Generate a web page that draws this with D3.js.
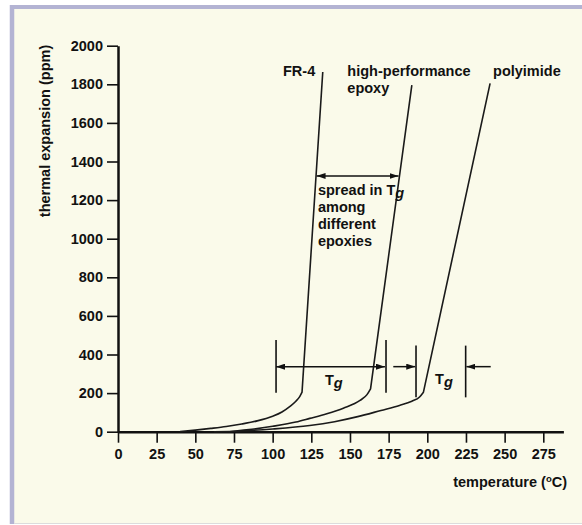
<!DOCTYPE html>
<html>
<head>
<meta charset="utf-8">
<script src="https://cdnjs.cloudflare.com/ajax/libs/d3/7.8.5/d3.min.js"></script>
<style>
  body { margin: 0; background: #fff; }
  svg { display: block; font-family: "Liberation Sans", Arial, Helvetica, sans-serif; font-weight: bold; }
</style>
</head>
<body>
<div id="container"></div>
<script>
//Curves: [temperature (C), thermal expansion (ppm)], smooth part up to the knee
var fr4 = [[40, 0], [50, 8], [60, 17], [70, 27], [80, 40], [90, 56], [100, 80], [106, 102], [111, 130], [115, 158], [117.5, 182], [119, 205]];
var hpEpoxy = [[72, 0], [80, 7], [90, 16], [100, 28], [115, 50], [124, 69], [135, 93], [145.7, 122], [156.5, 162], [161, 192], [163.3, 222]];
var polyimide = [[62, 0], [80, 4], [100, 14], [124, 32], [140, 52], [155, 78], [170, 110], [182, 136], [190, 158], [195, 180], [197.5, 205]];

//straight line above Tg, end point of each curve
var fr4Top = [132.4, 1864];
var hpEpoxyTop = [190, 1796];
var polyimideTop = [240.6, 1805];

var xTicks = [0, 25, 50, 75, 100, 125, 150, 175, 200, 225, 250, 275];
var yTicks = [0, 200, 400, 600, 800, 1000, 1200, 1400, 1600, 1800, 2000];

//Series names, placed at [temperature, ppm]
var seriesLabels = [
  { lines: ["FR-4"], at: [106.7, 1843] },
  { lines: ["high-performance", "epoxy"], at: [148.3, 1843] },
  { lines: ["polyimide"], at: [242.5, 1843] }
];

//Tg brackets: bar positions (C) and bar span (ppm)
var epoxyTgBars = [102.2, 173.3];
var polyTgBars = [192.7, 224.8];
var epoxyBarSpan = [202, 475];
var polyBarSpan = [178, 446];
var arrowLevel = 337;

//spread in Tg arrow, FR-4 to high-performance epoxy
var spreadArrow = [128.4, 181.4];
var spreadLevel = 1325;
var spreadText = ["spread in T", "among", "different", "epoxies"];
var spreadTextAt = [129.3, 1229];

var tgLabels = [[133.8, 244], [205, 247]];

var svgWidth = 582, svgHeight = 525;
var fontSize = "14.5px";

var svg = d3.select("#container")
  .append("svg")
  .attr("width", svgWidth)
  .attr("height", svgHeight);

//arrow head
svg.append("defs").append("marker")
  .attr("id", "head")
  .attr("viewBox", "0 0 9 6")
  .attr("markerUnits", "userSpaceOnUse")
  .attr("markerWidth", 9)
  .attr("markerHeight", 6)
  .attr("refX", 9)
  .attr("refY", 3)
  .attr("orient", "auto-start-reverse")
  .append("path")
  .attr("d", "M0,0L9,3L0,6Z")
  .attr("fill", "#111");

//panel
svg.append("rect")
  .attr("x", 12).attr("y", 7)
  .attr("width", 600).attr("height", 516)
  .attr("fill", "#fafaea");
svg.append("line")
  .attr("x1", 12).attr("x2", 12).attr("y1", 5).attr("y2", 524)
  .attr("stroke", "#b3b3d3").attr("stroke-width", 4.5);
svg.append("line")
  .attr("x1", 10).attr("x2", 582).attr("y1", 7).attr("y2", 7)
  .attr("stroke", "#b3b3d3").attr("stroke-width", 4);
svg.append("line")
  .attr("x1", 14).attr("x2", 582).attr("y1", 523.5).attr("y2", 523.5)
  .attr("stroke", "#dcdcdc").attr("stroke-width", 1);

var x = d3.scaleLinear().domain([0, 288]).range([118, 563.4]);
var y = d3.scaleLinear().domain([0, 2000]).range([431.7, 45.7]);

var xAxis = svg.append("g")
  .attr("transform", "translate(0," + y(0) + ")")
  .call(d3.axisBottom(x).tickValues(xTicks).tickFormat(d3.format("d")).tickSize(11).tickSizeOuter(0).tickPadding(6));

var yAxis = svg.append("g")
  .attr("transform", "translate(" + x(0) + ",0)")
  .call(d3.axisLeft(y).tickValues(yTicks).tickFormat(d3.format("d")).tickSize(11).tickSizeOuter(0).tickPadding(4));

[xAxis, yAxis].forEach(function (g) {
  g.select(".domain").attr("stroke", "#111").attr("stroke-width", 2.5);
  g.selectAll(".tick line").attr("stroke", "#111").attr("stroke-width", 1.6);
  g.selectAll(".tick text")
    .attr("fill", "#111")
    .style("font-size", fontSize)
    .style("font-weight", "bold")
    .style("font-family", "'Liberation Sans', Arial, sans-serif");
});

//axis titles
svg.append("text")
  .attr("transform", "translate(50,131) rotate(-90)")
  .attr("text-anchor", "middle")
  .style("font-size", fontSize)
  .attr("fill", "#111")
  .text("thermal expansion (ppm)");

var xTitle = svg.append("text")
  .attr("x", 567)
  .attr("y", 487)
  .attr("text-anchor", "end")
  .style("font-size", fontSize)
  .attr("fill", "#111");
xTitle.append("tspan").text("temperature (");
xTitle.append("tspan").attr("dy", -5).style("font-size", "9.5px").text("o");
xTitle.append("tspan").attr("dy", 5).text("C)");

//curves
var smooth = d3.line()
  .x(function (d) { return x(d[0]); })
  .y(function (d) { return y(d[1]); })
  .curve(d3.curveMonotoneX);

[[fr4, fr4Top], [hpEpoxy, hpEpoxyTop], [polyimide, polyimideTop]].forEach(function (s) {
  svg.append("path")
    .attr("d", smooth(s[0]) + "L" + x(s[1][0]) + "," + y(s[1][1]))
    .attr("fill", "none")
    .attr("stroke", "#1a1a1a")
    .attr("stroke-width", 1.6)
    .attr("stroke-linejoin", "round");
});

//series labels
seriesLabels.forEach(function (l) {
  var t = svg.append("text")
    .attr("x", x(l.at[0]))
    .attr("y", y(l.at[1]))
    .style("font-size", fontSize)
    .attr("fill", "#111");
  l.lines.forEach(function (line, i) {
    t.append("tspan").attr("x", x(l.at[0])).attr("dy", i === 0 ? 0 : 17).text(line);
  });
});

//Tg bars
function bar(t, span) {
  svg.append("line")
    .attr("x1", x(t)).attr("x2", x(t))
    .attr("y1", y(span[0])).attr("y2", y(span[1]))
    .attr("stroke", "#111").attr("stroke-width", 1.6);
}
function arrow(t1, t2, v, both) {
  var a = svg.append("line")
    .attr("x1", x(t1)).attr("x2", x(t2))
    .attr("y1", y(v)).attr("y2", y(v))
    .attr("stroke", "#111").attr("stroke-width", 1.5)
    .attr("marker-end", "url(#head)");
  if (both) a.attr("marker-start", "url(#head)");
}

epoxyTgBars.forEach(function (t) { bar(t, epoxyBarSpan); });
polyTgBars.forEach(function (t) { bar(t, polyBarSpan); });

arrow(epoxyTgBars[0], epoxyTgBars[1] - 0.7, arrowLevel, true);
arrow(178, polyTgBars[0] - 0.5, arrowLevel, false);
arrow(241, polyTgBars[1] + 0.5, arrowLevel, false);
arrow(spreadArrow[0], spreadArrow[1], spreadLevel, true);

//Tg labels
function tg(sel) {
  sel.append("tspan").text("T");
  sel.append("tspan").attr("dy", 3).style("font-style", "italic").text("g");
}
tgLabels.forEach(function (p) {
  var t = svg.append("text")
    .attr("x", x(p[0]))
    .attr("y", y(p[1]))
    .style("font-size", fontSize)
    .attr("fill", "#111");
  tg(t);
});

//spread text
var st = svg.append("text")
  .attr("x", x(spreadTextAt[0]))
  .attr("y", y(spreadTextAt[1]))
  .style("font-size", fontSize)
  .attr("fill", "#111");
spreadText.forEach(function (line, i) {
  st.append("tspan")
    .attr("x", x(spreadTextAt[0]))
    .attr("dy", i === 0 ? 0 : (i === 1 ? 14 : 17))
    .text(line);
  if (i === 0) {
    st.append("tspan").attr("dy", 3).style("font-style", "italic").text("g");
  }
});
</script>
</body>
</html>
